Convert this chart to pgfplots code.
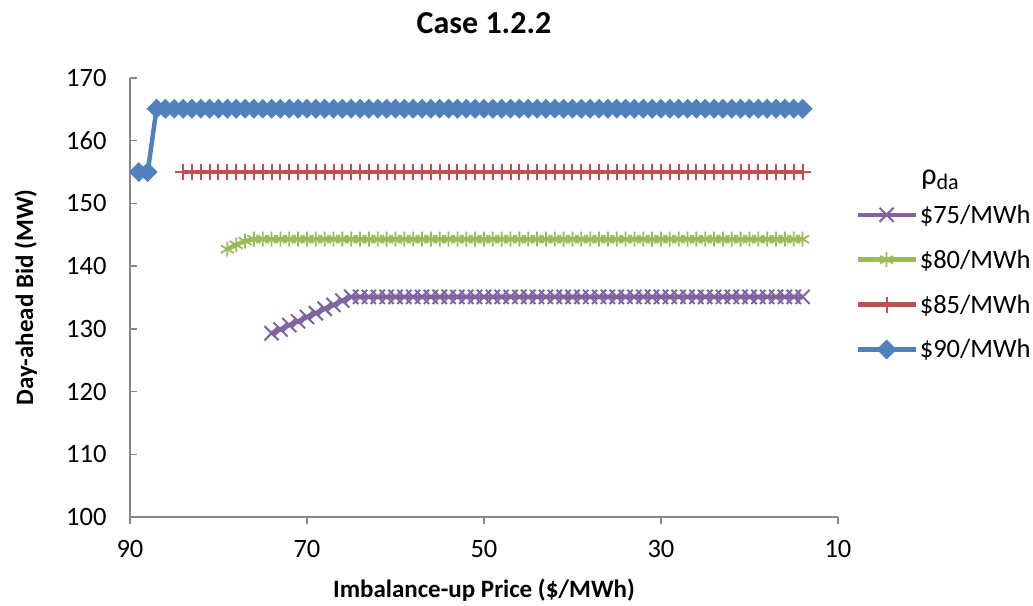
\documentclass[border=0pt]{standalone}
\usepackage{pgfplots}
\pgfplotsset{compat=1.18}
\usepackage{fontspec}
\setmainfont{Carlito}
\definecolor{cblue}{HTML}{4F81BD}
\definecolor{cred}{HTML}{C0504D}
\definecolor{cgreen}{HTML}{9BBB59}
\definecolor{cpurple}{HTML}{8064A2}
\definecolor{axgray}{HTML}{868686}
\begin{document}
\begin{tikzpicture}
\useasboundingbox (0,0) rectangle (1033bp,606bp);
\begin{axis}[
  at={(130bp,89bp)}, anchor=south west,
  scale only axis, width=708bp, height=439bp,
  clip=false,
  x dir=reverse,
  xmin=10, xmax=90, ymin=100, ymax=170,
  xtick={10,30,50,70,90}, ytick={100,110,...,170},
  axis lines=left,
  axis line style={axgray, line width=1.5bp, -},
  tick style={axgray, line width=1.5bp},
  ytick style={xshift=7bp},
  tick align=outside,
  major tick length=7bp,
  /pgf/number format/assume math mode=true,
  ticklabel style={font=\fontsize{26.5bp}{32bp}\selectfont, text=black},
  xticklabel style={yshift=-13bp},
  yticklabel style={xshift=-13bp},
  title={Case 1.2.2},
  title style={at={(0.5,1)}, anchor=center, yshift=49bp, font=\bfseries\fontsize{32bp}{38bp}\selectfont},
  xlabel={Imbalance-up Price (\$/MWh)},
  ylabel={Day-ahead Bid (MW)},
  label style={font=\bfseries\fontsize{25bp}{30bp}\selectfont},
  xlabel style={at={(axis description cs:0.5,-0.166)}, anchor=center},
  ylabel style={at={(axis description cs:-0.147,0.5)}, anchor=center, rotate=0},
  legend cell align=left,
  legend style={draw=none, fill=none, at={(1.02,0.535)}, anchor=west,
    font=\fontsize{26.5bp}{32bp}\selectfont, row sep=21bp,
    /tikz/every even column/.append style={column sep=2bp}},
  legend image code/.code={\draw[mark repeat=2,mark phase=2] plot coordinates {(0bp,0bp) (29bp,0bp) (58bp,0bp)};},
]
% $75/MWh
\addplot[cpurple, line width=4.5bp, mark=x, mark size=10bp, mark options={line width=2bp, solid}] coordinates {
(74,129.3) (73,129.9) (72,130.6) (71,131.2) (70,131.9) (69,132.5) (68,133.2) (67,133.8) (66,134.5) (65,135.1)
(64,135.1) (63,135.1) (62,135.1) (61,135.1) (60,135.1) (59,135.1) (58,135.1) (57,135.1) (56,135.1) (55,135.1)
(54,135.1) (53,135.1) (52,135.1) (51,135.1) (50,135.1) (49,135.1) (48,135.1) (47,135.1) (46,135.1) (45,135.1)
(44,135.1) (43,135.1) (42,135.1) (41,135.1) (40,135.1) (39,135.1) (38,135.1) (37,135.1) (36,135.1) (35,135.1)
(34,135.1) (33,135.1) (32,135.1) (31,135.1) (30,135.1) (29,135.1) (28,135.1) (27,135.1) (26,135.1) (25,135.1)
(24,135.1) (23,135.1) (22,135.1) (21,135.1) (20,135.1) (19,135.1) (18,135.1) (17,135.1) (16,135.1) (15,135.1)
(14,135.1)
};
\addlegendentry{\$75/MWh}
% $80/MWh
\addplot[cgreen, line width=4.5bp, mark=asterisk, mark size=7.5bp, mark options={line width=1.8bp, solid}] coordinates {
(79,142.7) (78,143.4) (77,144.0) (76,144.3) (75,144.3)
(74,144.3) (73,144.3) (72,144.3) (71,144.3) (70,144.3) (69,144.3) (68,144.3) (67,144.3) (66,144.3) (65,144.3)
(64,144.3) (63,144.3) (62,144.3) (61,144.3) (60,144.3) (59,144.3) (58,144.3) (57,144.3) (56,144.3) (55,144.3)
(54,144.3) (53,144.3) (52,144.3) (51,144.3) (50,144.3) (49,144.3) (48,144.3) (47,144.3) (46,144.3) (45,144.3)
(44,144.3) (43,144.3) (42,144.3) (41,144.3) (40,144.3) (39,144.3) (38,144.3) (37,144.3) (36,144.3) (35,144.3)
(34,144.3) (33,144.3) (32,144.3) (31,144.3) (30,144.3) (29,144.3) (28,144.3) (27,144.3) (26,144.3) (25,144.3)
(24,144.3) (23,144.3) (22,144.3) (21,144.3) (20,144.3) (19,144.3) (18,144.3) (17,144.3) (16,144.3) (15,144.3)
(14,144.3)
};
\addlegendentry{\$80/MWh}
% $85/MWh
\addplot[cred, line width=4.5bp, mark=+, mark size=8bp, mark options={line width=2bp, solid}] coordinates {
(84,155) (83,155) (82,155) (81,155) (80,155) (79,155) (78,155) (77,155) (76,155) (75,155)
(74,155) (73,155) (72,155) (71,155) (70,155) (69,155) (68,155) (67,155) (66,155) (65,155)
(64,155) (63,155) (62,155) (61,155) (60,155) (59,155) (58,155) (57,155) (56,155) (55,155)
(54,155) (53,155) (52,155) (51,155) (50,155) (49,155) (48,155) (47,155) (46,155) (45,155)
(44,155) (43,155) (42,155) (41,155) (40,155) (39,155) (38,155) (37,155) (36,155) (35,155)
(34,155) (33,155) (32,155) (31,155) (30,155) (29,155) (28,155) (27,155) (26,155) (25,155)
(24,155) (23,155) (22,155) (21,155) (20,155) (19,155) (18,155) (17,155) (16,155) (15,155)
(14,155)
};
\addlegendentry{\$85/MWh}
% $90/MWh
\addplot[cblue, line width=4.5bp, mark=square*, mark size=4.8bp, mark options={rotate=45, solid, fill=cblue}] coordinates {
(89,155) (88,155) (87,165.1) (86,165.1) (85,165.1)
(84,165.1) (83,165.1) (82,165.1) (81,165.1) (80,165.1) (79,165.1) (78,165.1) (77,165.1) (76,165.1) (75,165.1)
(74,165.1) (73,165.1) (72,165.1) (71,165.1) (70,165.1) (69,165.1) (68,165.1) (67,165.1) (66,165.1) (65,165.1)
(64,165.1) (63,165.1) (62,165.1) (61,165.1) (60,165.1) (59,165.1) (58,165.1) (57,165.1) (56,165.1) (55,165.1)
(54,165.1) (53,165.1) (52,165.1) (51,165.1) (50,165.1) (49,165.1) (48,165.1) (47,165.1) (46,165.1) (45,165.1)
(44,165.1) (43,165.1) (42,165.1) (41,165.1) (40,165.1) (39,165.1) (38,165.1) (37,165.1) (36,165.1) (35,165.1)
(34,165.1) (33,165.1) (32,165.1) (31,165.1) (30,165.1) (29,165.1) (28,165.1) (27,165.1) (26,165.1) (25,165.1)
(24,165.1) (23,165.1) (22,165.1) (21,165.1) (20,165.1) (19,165.1) (18,165.1) (17,165.1) (16,165.1) (15,165.1)
(14,165.1)
};
\addlegendentry{\$90/MWh}
\node[font=\fontsize{30bp}{36bp}\selectfont, anchor=center] at (axis description cs:1.144,0.768) {ρ\raisebox{-0.35ex}{\fontsize{22bp}{26bp}\selectfont da}};
\end{axis}
\end{tikzpicture}
\end{document}
